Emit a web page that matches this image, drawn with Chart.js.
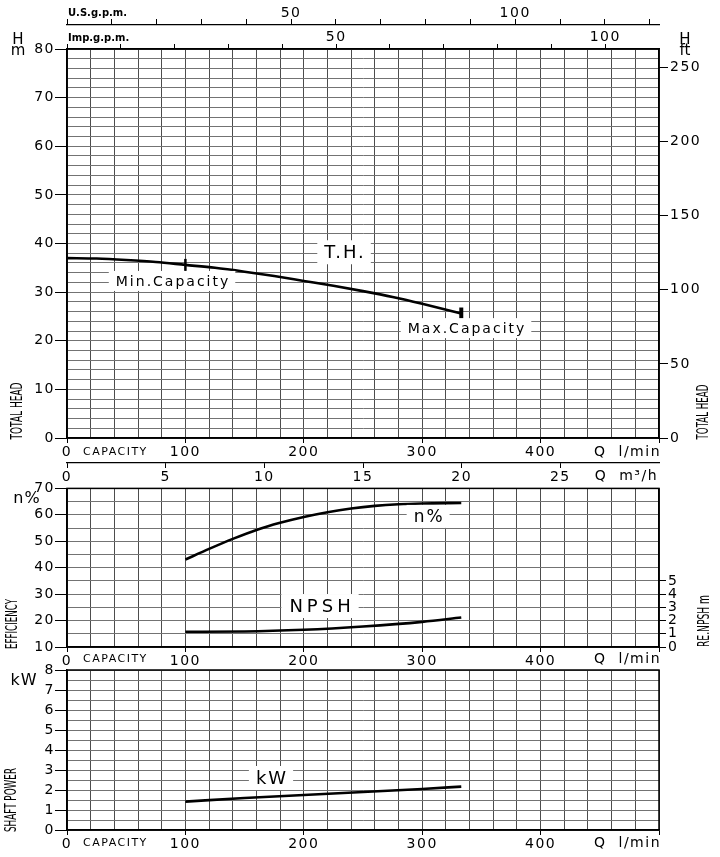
<!DOCTYPE html>
<html>
<head>
<meta charset="utf-8">
<script src="https://cdn.jsdelivr.net/npm/chart.js@4.4.1/dist/chart.umd.min.js"></script>
<style>
  html, body { margin: 0; padding: 0; background: #fff; }
  #wrap { position: relative; width: 720px; height: 857px; }
  canvas { position: absolute; left: 0; }
</style>
</head>
<body>
<div id="wrap">
  <canvas id="cHead" width="720" height="488" style="top:0"></canvas>
  <canvas id="cEff" width="720" height="192" style="top:478px"></canvas>
  <canvas id="cPow" width="720" height="197" style="top:660px"></canvas>
</div>
<script>
// ── Data ────────────────────────────────────────────────

const flowTH = [0, 25, 50, 75, 100, 125, 150, 175, 200, 225, 250, 275, 300, 333];
const headTH = [37.0, 36.9, 36.6, 36.2, 35.6, 35.0, 34.2, 33.3, 32.3, 31.3, 30.2, 29.0, 27.6, 25.6];

const flowEff = [100, 120, 140, 160, 180, 200, 220, 240, 260, 280, 300, 333];
const effPct = [43.1, 47.1, 50.9, 54.3, 57.0, 59.2, 61.0, 62.4, 63.4, 64.0, 64.3, 64.5];

const flowNpsh = [100, 150, 200, 250, 300, 333];
const npshM = [1.15, 1.17, 1.3, 1.55, 1.9, 2.23];

const flowKw = [100, 150, 200, 250, 300, 333];
const powerKw = [1.42, 1.6, 1.75, 1.9, 2.05, 2.17];

const MIN_CAP = 100;            // l/min
const Q_MAX = 500;              // l/min, end of the capacity axis
const usGpmTicks = [0, 10, 20, 30, 40, 50, 60, 70, 80, 90, 100, 110, 120, 130];
const impGpmTicks = [0, 10, 20, 30, 40, 50, 60, 70, 80, 90, 100];
const m3hTicks = [0, 5, 10, 15, 20, 25];
const ftTicks = [0, 50, 100, 150, 200, 250];
const npshTicks = [0, 1, 2, 3, 4, 5];

const US_GAL = 3.78541, IMP_GAL = 4.54609, FT = 0.3048;

// ── Defaults ────────────────────────────────────────────

Chart.defaults.font.family = "'DejaVu Sans', sans-serif";
Chart.defaults.font.size = 14;
Chart.defaults.color = '#000';

const GRID_V = '#4d4d4d';
const GRID_H = '#737373';
const NONE = 'rgba(0,0,0,0)';
const FONT = "'DejaVu Sans', sans-serif";

// ── Plugins ─────────────────────────────────────────────

const frame = {
  id: 'frame',
  beforeDraw(chart) { chart.ctx.letterSpacing = '1.5px'; },
  beforeDatasetsDraw(chart) {
    const { ctx, chartArea: a } = chart;
    ctx.save();
    ctx.strokeStyle = '#000';
    ctx.lineWidth = 1.5;
    ctx.strokeRect(a.left, a.top, a.right - a.left, a.bottom - a.top);
    ctx.restore();
  },
};

// text, boxed curve labels and rotated axis titles
const notes = {
  id: 'notes',
  afterDraw(chart, args, opts) {
    const ctx = chart.ctx;
    const top = chart.canvas.offsetTop;
    (opts.items || []).forEach(it => {
      ctx.save();
      ctx.font = (it.f || '14px') + ' ' + FONT;
      ctx.letterSpacing = (it.ls || 0) + 'px';
      ctx.fillStyle = '#000';
      ctx.textBaseline = 'middle';
      let x = it.x, y = it.y - top;
      if (it.q !== undefined) {
        x = chart.scales.x.getPixelForValue(it.q);
        y = chart.scales[it.axis || 'y'].getPixelForValue(it.v);
      }
      ctx.translate(x, y);
      const w = ctx.measureText(it.t).width;
      if (it.rot) {
        ctx.rotate(-Math.PI / 2);
        ctx.scale(it.fit / w, 1);
        ctx.textAlign = 'center';
        ctx.fillText(it.t, 0, 0);
      } else if (it.box) {
        const h = parseFloat(it.f);
        ctx.fillStyle = '#fff';
        ctx.fillRect(-w / 2 - 6, -h / 2 - 3, w + 12, h + 6);
        ctx.fillStyle = '#000';
        ctx.textAlign = 'center';
        ctx.fillText(it.t, it.ls ? it.ls / 2 : 0, 1);
      } else {
        ctx.textAlign = it.al || 'center';
        ctx.fillText(it.t, 0, 0);
      }
      ctx.restore();
    });
  },
};

// ── Axis helpers ────────────────────────────────────────

function flowAxis(h) {
  return {
    type: 'linear', position: 'bottom', min: 0, max: Q_MAX,
    ticks: {
      stepSize: 20, autoSkip: false, maxRotation: 0, padding: 1,
      callback: v => (v % 100 === 0 && v < Q_MAX) ? String(v) : '',
    },
    grid: {
      color: GRID_V, tickLength: 5,
      tickColor: c => (c.tick && c.tick.value % 100 === 0) ? '#000' : NONE,
    },
    border: { color: '#000', width: 1.5 },
    afterFit: s => { s.height = h; },
  };
}

function valueAxis(min, max, step, every, tickLen) {
  return {
    type: 'linear', position: 'left', min, max,
    ticks: {
      stepSize: step, autoSkip: false, padding: 0,
      callback: v => (Math.abs(v % every) < 1e-6) ? String(v) : '',
    },
    grid: {
      color: GRID_H, tickLength: tickLen,
      tickColor: c => (c.tick && Math.abs(c.tick.value % every) < 1e-6) ? '#000' : NONE,
    },
    border: { color: '#000', width: 1.5 },
    afterFit: s => { s.width = 67; },
  };
}

function sideAxis(pos, min, max, ticks, tickLen, size, weight, label, pad) {
  const horiz = pos === 'top' || pos === 'bottom';
  return {
    type: 'linear', position: pos, min, max, weight: weight || 0,
    afterBuildTicks: s => { s.ticks = ticks.map(v => ({ value: v })); },
    ticks: {
      autoSkip: false, maxRotation: 0, padding: pad !== undefined ? pad : 2,
      callback: label || (v => String(v)),
    },
    grid: { drawOnChartArea: false, tickLength: tickLen, color: '#000' },
    border: { color: '#000', width: 1.2 },
    afterFit: s => { if (horiz) s.height = size; else s.width = size; },
  };
}

function curve(xs, ys, extra) {
  return Object.assign({
    data: xs.map((q, i) => ({ x: q, y: ys[i] })),
    borderColor: '#000',
    borderWidth: 2.6,
    pointRadius: 0,
    cubicInterpolationMode: 'monotone',
    fill: false,
  }, extra || {});
}

const baseOpts = {
  responsive: false,
  animation: false,
  events: [],
  plugins: { legend: { display: false }, tooltip: { enabled: false } },
};

const gpmLabel = v => (v > 0 && v % 50 === 0) ? String(v) : '';

// ── Head chart ──────────────────────────────────────────

const lastTH = flowTH.length - 1;

new Chart(document.getElementById('cHead'), {
  type: 'line',
  data: {
    datasets: [curve(flowTH, headTH, {
      pointStyle: 'line',
      rotation: 90,
      pointRadius: c => (flowTH[c.dataIndex] === MIN_CAP || c.dataIndex === lastTH) ? 6 : 0,
      pointBorderWidth: c => c.dataIndex === lastTH ? 4 : 2.5,
      pointBorderColor: '#000',
    })],
  },
  options: Object.assign({}, baseOpts, {
    layout: { padding: 0 },
    scales: {
      x: flowAxis(25),
      xM3: sideAxis('bottom', 0, Q_MAX * 60 / 1000, m3hTicks, 5, 25, 1, null, 1),
      xImp: sideAxis('top', 0, Q_MAX / IMP_GAL, impGpmTicks, 5, 24, 0, gpmLabel, -2),
      xUs: sideAxis('top', 0, Q_MAX / US_GAL, usGpmTicks, 6, 25, 1, gpmLabel, -3),
      y: valueAxis(0, 80, 2, 10, 12),
      yFt: sideAxis('right', 0, 80 / FT, ftTicks, 9, 61),
    },
    plugins: Object.assign({}, baseOpts.plugins, {
      notes: {
        items: [
          { t: 'U.S.g.p.m.', x: 68, y: 13, f: 'bold 10px', al: 'left' },
          { t: 'Imp.g.p.m.', x: 68, y: 38, f: 'bold 10px', al: 'left' },
          { t: 'H', x: 18, y: 40, f: '15px' },
          { t: 'm', x: 18, y: 51, f: '15px' },
          { t: 'H', x: 685, y: 40, f: '15px' },
          { t: 'ft', x: 685, y: 51, f: '15px' },
          { t: 'CAPACITY', x: 83, y: 452, f: '11px', al: 'left', ls: 1.5 },
          { t: 'Q  l/min', x: 661, y: 452, f: '14px', al: 'right', ls: 1.5 },
          { t: 'Q  m³/h', x: 658, y: 476, f: '14px', al: 'right', ls: 1.5 },
          { t: 'TOTAL HEAD', x: 18, y: 411, f: '15px', rot: true, fit: 57 },
          { t: 'TOTAL HEAD', x: 704, y: 412, f: '15px', rot: true, fit: 55 },
          { t: 'T.H.', q: 234, v: 38.2, f: '18px', ls: 2, box: true },
          { t: 'Min.Capacity', q: 88.7, v: 32.3, f: '14px', ls: 2, box: true },
          { t: 'Max.Capacity', q: 337, v: 22.6, f: '14px', ls: 2, box: true },
        ],
      },
    }),
  }),
  plugins: [frame, notes],
});

// ── Efficiency / NPSH chart ─────────────────────────────

new Chart(document.getElementById('cEff'), {
  type: 'line',
  data: {
    datasets: [
      curve(flowEff, effPct),
      curve(flowNpsh, npshM, { yAxisID: 'y2' }),
    ],
  },
  options: Object.assign({}, baseOpts, {
    layout: { padding: { top: 10 } },
    scales: {
      x: flowAxis(23),
      y: valueAxis(10, 70, 5, 10, 12),
      y2: sideAxis('right', 0, 12, npshTicks, 7, 61),
    },
    plugins: Object.assign({}, baseOpts.plugins, {
      notes: {
        items: [
          { t: 'n%', x: 27, y: 499, f: '16px', ls: 1 },
          { t: 'CAPACITY', x: 83, y: 659, f: '11px', al: 'left', ls: 1.5 },
          { t: 'Q  l/min', x: 661, y: 659, f: '14px', al: 'right', ls: 1.5 },
          { t: 'EFFICIENCY', x: 13, y: 624, f: '15px', rot: true, fit: 50 },
          { t: 'RE.NPSH m', x: 705, y: 621, f: '15px', rot: true, fit: 52 },
          { t: 'n%', q: 305, v: 59.4, f: '17px', ls: 2, box: true },
          { t: 'NPSH', q: 213.7, v: 25.5, f: '18px', ls: 4, box: true },
        ],
      },
    }),
  }),
  plugins: [frame, notes],
});

// ── Shaft power chart ───────────────────────────────────

new Chart(document.getElementById('cPow'), {
  type: 'line',
  data: { datasets: [curve(flowKw, powerKw)] },
  options: Object.assign({}, baseOpts, {
    layout: { padding: { top: 10, right: 61 } },
    scales: {
      x: flowAxis(27),
      y: valueAxis(0, 8, 0.5, 1, 12),
    },
    plugins: Object.assign({}, baseOpts.plugins, {
      notes: {
        items: [
          { t: 'kW', x: 24, y: 681, f: '16px', ls: 1 },
          { t: 'CAPACITY', x: 83, y: 843, f: '11px', al: 'left', ls: 1.5 },
          { t: 'Q  l/min', x: 661, y: 843, f: '14px', al: 'right', ls: 1.5 },
          { t: 'SHAFT POWER', x: 12.5, y: 800, f: '15px', rot: true, fit: 64 },
          { t: 'kW', q: 172.3, v: 2.6, f: '18px', ls: 2, box: true },
        ],
      },
    }),
  }),
  plugins: [frame, notes],
});
</script>
</body>
</html>
